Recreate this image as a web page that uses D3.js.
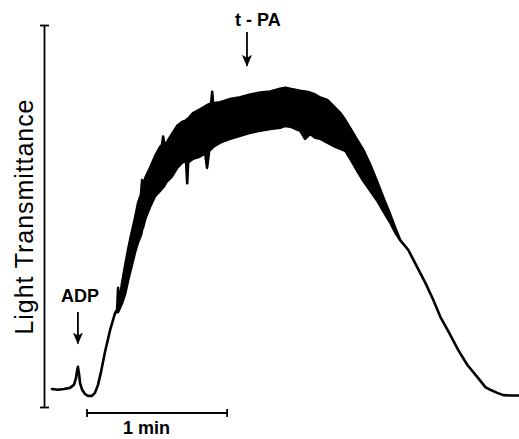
<!DOCTYPE html>
<html>
<head>
<meta charset="utf-8">
<script src="https://cdn.jsdelivr.net/npm/d3@7"></script>
<style>
  html, body { margin: 0; padding: 0; background: #fff; }
  svg { display: block; }
  text { font-family: "Liberation Sans", Arial, sans-serif; fill: #000; }
</style>
</head>
<body>
<svg id="chart" width="519" height="439"></svg>
<script>
// Time (s) since start of recording
const timeSec = [0, 2.6, 5.1, 7.7, 9.4, 10.3, 10.7, 11.1, 11.6, 12.0, 12.9, 14.1, 15.4, 17.1, 18.4, 19.7, 21.0, 22.7, 24.9, 27.0,
  27.9, 28.3, 28.7, 29.1, 30.0, 31.3, 32.6, 33.9, 35.6, 36.9, 38.1, 38.6, 39.0, 39.9, 42.0, 44.1, 46.3, 47.1, 47.6, 48.0,
  48.9, 51.4, 53.6, 55.7, 57.4, 57.9, 58.3, 60.4, 63.4, 65.6, 66.4, 67.3, 68.1, 68.6, 69.0, 72.0, 76.3, 80.6, 84.9, 89.1,
  93.4, 97.7, 99.9, 102.0, 106.3, 108.4, 110.6, 112.7, 114.9, 117.9, 121.3, 123.4, 125.6, 127.7, 130.7, 133.3, 136.3, 139.3, 142.3, 144.9,
  147.0, 149.1, 152.6, 156.4, 159.9, 163.3, 166.3, 170.1, 174.0, 177.9, 182.1, 185.6, 187.7, 190.7, 193.3, 196.3, 200];
// Upper envelope of light transmittance (%)
const upperPct = [4.7, 4.5, 4.7, 5.0, 5.8, 7.6, 9.4, 10.5, 8.6, 6.3, 4.5, 3.4, 2.9, 2.9, 3.7, 5.8, 9.2, 14.4, 20.2, 24.6,
  25.5, 31.2, 27.0, 28.5, 32.4, 37.0, 41.2, 45.0, 49.6, 53.5, 55.6, 59.4, 56.6, 59.9, 62.6, 65.6, 68.1, 68.6, 70.8, 69.1,
  69.0, 71.5, 73.6, 74.6, 75.0, 75.4, 75.5, 76.9, 77.9, 78.7, 79.0, 79.3, 79.2, 82.5, 79.5, 79.8, 80.6, 81.1, 81.8, 82.3,
  82.6, 83.3, 83.6, 83.3, 82.8, 82.6, 82.3, 81.8, 81.0, 80.4, 78.3, 77.0, 75.1, 73.0, 69.9, 67.3, 63.4, 58.9, 54.2, 50.3,
  46.9, 43.7, 41.1, 36.6, 32.5, 28.0, 23.6, 19.4, 14.9, 11.0, 7.9, 5.2, 4.5, 3.7, 3.1, 3.0, 3.0];
// Lower envelope of light transmittance (%)
const lowerPct = [4.7, 4.5, 4.7, 5.0, 5.8, 7.6, 9.4, 10.5, 8.6, 6.3, 4.5, 3.4, 2.9, 2.9, 3.7, 5.8, 9.2, 14.4, 20.2, 24.6,
  24.8, 24.9, 25.4, 26.0, 27.2, 29.6, 33.2, 36.4, 40.6, 43.2, 45.0, 46.5, 47.0, 49.2, 52.4, 55.2, 56.6, 57.2, 57.5, 57.8,
  58.8, 60.4, 62.6, 64.0, 64.4, 58.6, 64.0, 65.0, 65.6, 66.4, 62.6, 67.0, 67.5, 67.8, 68.1, 69.2, 70.2, 71.0, 71.8, 72.3,
  72.8, 73.1, 73.6, 73.4, 72.3, 70.2, 71.5, 70.5, 70.2, 69.2, 68.1, 67.6, 67.1, 65.0, 61.8, 59.2, 56.6, 54.0, 50.8, 48.2,
  45.7, 43.7, 41.1, 36.6, 32.5, 28.0, 23.6, 19.4, 14.9, 11.0, 7.9, 5.2, 4.5, 3.7, 3.1, 3.0, 3.0];

const yTicks = [0, 100];
const scaleBar = { start: 15, end: 75, label: "1 min" };
const annotations = [
  { label: "ADP", t: 11.1, from: 24.9, to: 16.6 },
  { label: "t - PA", t: 83.5, from: 98.2, to: 89.3 }
];
const yTitle = "Light Transmittance";

const svg = d3.select("#chart");
const x = d3.scaleLinear().domain([0, 200]).range([52, 519]);
const y = d3.scaleLinear().domain([0, 100]).range([407, 25]);

const data = timeSec.map((t, i) => ({ t, u: upperPct[i], l: lowerPct[i] }));

// Y axis with end caps
const yAxis = d3.axisLeft(y).tickValues(yTicks).tickSizeInner(4).tickSizeOuter(0).tickFormat("");
const ax = svg.append("g").attr("transform", "translate(44,0)").call(yAxis);
ax.select(".domain").attr("stroke", "#000").attr("stroke-width", 1.8);
ax.selectAll(".tick line").attr("x1", -4).attr("x2", 5).attr("stroke", "#000").attr("stroke-width", 1.8);

// Y title
svg.append("text")
  .attr("transform", `translate(33,${(y(0) + y(100)) / 2 + 1}) rotate(-90)`)
  .attr("text-anchor", "middle")
  .attr("font-size", 25)
  .attr("textLength", 235)
  .attr("lengthAdjust", "spacing")
  .text(yTitle);

// Trace band
const area = d3.area()
  .x(d => x(d.t))
  .y0(d => y(d.l))
  .y1(d => y(d.u))
  .curve(d3.curveLinear);
svg.append("path")
  .datum(data)
  .attr("d", area)
  .attr("fill", "#000")
  .attr("stroke", "#000")
  .attr("stroke-width", 2.6)
  .attr("stroke-linejoin", "round");

// Arrowhead marker
svg.append("defs").append("marker")
  .attr("id", "ah")
  .attr("viewBox", "0 -5 12 10")
  .attr("refX", 11).attr("refY", 0)
  .attr("markerWidth", 12).attr("markerHeight", 10)
  .attr("markerUnits", "userSpaceOnUse")
  .attr("orient", "auto")
  .append("path")
  .attr("d", "M0,-5 L12,0 L0,5 L3,0 Z")
  .attr("fill", "#000");

annotations.forEach(a => {
  svg.append("line")
    .attr("x1", x(a.t)).attr("x2", x(a.t))
    .attr("y1", y(a.from)).attr("y2", y(a.to))
    .attr("stroke", "#000").attr("stroke-width", 1.8)
    .attr("marker-end", "url(#ah)");
});
svg.append("text")
  .attr("x", x(annotations[0].t) + 2).attr("y", y(annotations[0].from) - 10)
  .attr("text-anchor", "middle").attr("font-size", 18).attr("font-weight", "bold")
  .text(annotations[0].label);
svg.append("text")
  .attr("x", x(annotations[1].t) - 12).attr("y", y(annotations[1].from) - 6)
  .attr("text-anchor", "start").attr("font-size", 18).attr("font-weight", "bold")
  .attr("xml:space", "preserve")
  .text(annotations[1].label);

// Time scale bar
const by = y(0) + 6;
const bar = svg.append("g").attr("stroke", "#000").attr("stroke-width", 1.8);
bar.append("line").attr("x1", x(scaleBar.start)).attr("x2", x(scaleBar.end)).attr("y1", by).attr("y2", by);
[scaleBar.start, scaleBar.end].forEach(t => {
  bar.append("line").attr("x1", x(t)).attr("x2", x(t)).attr("y1", by - 4).attr("y2", by + 4);
});
svg.append("text")
  .attr("x", x(scaleBar.start) + 36).attr("y", by + 21)
  .attr("font-size", 18).attr("font-weight", "bold")
  .text(scaleBar.label);
</script>
</body>
</html>
